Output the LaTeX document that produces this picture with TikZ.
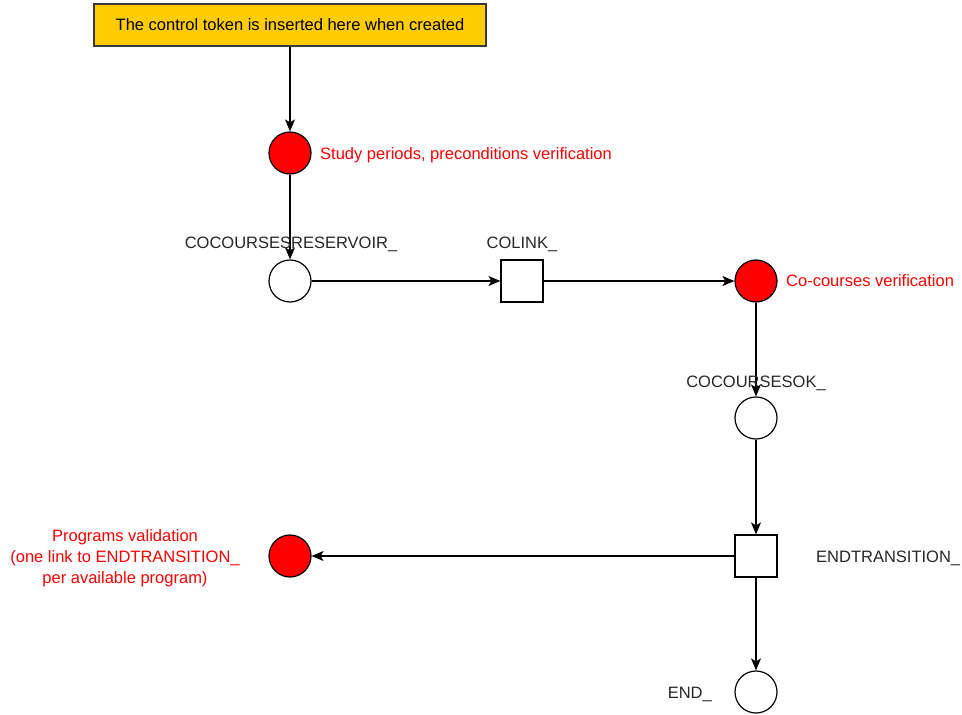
\documentclass[tikz,border=0pt]{standalone}
\usepackage{fontspec}
\setmainfont{Liberation Sans}
\usetikzlibrary{arrows.meta}
\definecolor{notefill}{HTML}{FFCC00}
\definecolor{noteline}{HTML}{3A3A3A}
\definecolor{tokred}{HTML}{FF0000}
\definecolor{edge}{HTML}{000000}
\begin{document}
\begin{tikzpicture}[x=1pt,y=-1pt,
  every node/.style={font=\fontsize{16.5}{21}\selectfont, inner sep=0pt},
  place/.style={circle, draw=black, line width=1.2pt, minimum size=42pt, fill=white},
  redplace/.style={place, fill=tokred},
  trans/.style={rectangle, draw=black, line width=1.2pt, minimum size=42pt, fill=white},
  note/.style={rectangle, draw=noteline, line width=1.2pt, fill=notefill, minimum width=392pt, minimum height=42pt},
  lbl/.style={text=black!85},
  redlbl/.style={text=tokred},
  arc/.style={draw=edge, line width=1.2pt, -{Stealth[length=12pt,width=10pt,inset=3pt]}}
]
\useasboundingbox (0,0) rectangle (962,715);

% comment box marking where the control token starts
\node[note] (start) at (290,25) {The control token is inserted here when created};

% places and transitions
\node[redplace] (study) at (290,153) {};
\node[place] (reservoir) at (290,281) {};
\node[trans] (colink) at (522,281) {};
\node[redplace] (coverif) at (756,281) {};
\node[place] (cook) at (756,418) {};
\node[trans] (endtr) at (756,556) {};
\node[redplace] (progs) at (290,556) {};
\node[place] (endp) at (756,692) {};

% arcs
\draw[arc] (start) -- (study);
\draw[arc] (study) -- (reservoir);
\draw[arc] (reservoir) -- (colink);
\draw[arc] (colink) -- (coverif);
\draw[arc] (coverif) -- (cook);
\draw[arc] (cook) -- (endtr);
\draw[arc] (endtr) -- (progs);
\draw[arc] (endtr) -- (endp);

% labels
\node[redlbl, anchor=west] (lstudy) at (320,155) {Study periods, preconditions verification};
\node[lbl] (lres) at (291,244) {COCOURSESRESERVOIR\_};
\node[lbl] (lcolink) at (522,244) {COLINK\_};
\node[redlbl, anchor=west] (lcover) at (786,281) {Co-courses verification};
\node[lbl] (lcook) at (756,383) {COCOURSESOK\_};
\node[lbl, anchor=west] (lendtr) at (816,558) {ENDTRANSITION\_};
\node[lbl, anchor=east] (lend) at (712,694) {END\_};
\node[redlbl, align=center] (lprogs) at (125,558) {Programs validation\\(one link to ENDTRANSITION\_\\per available program)};
\end{tikzpicture}
\end{document}
